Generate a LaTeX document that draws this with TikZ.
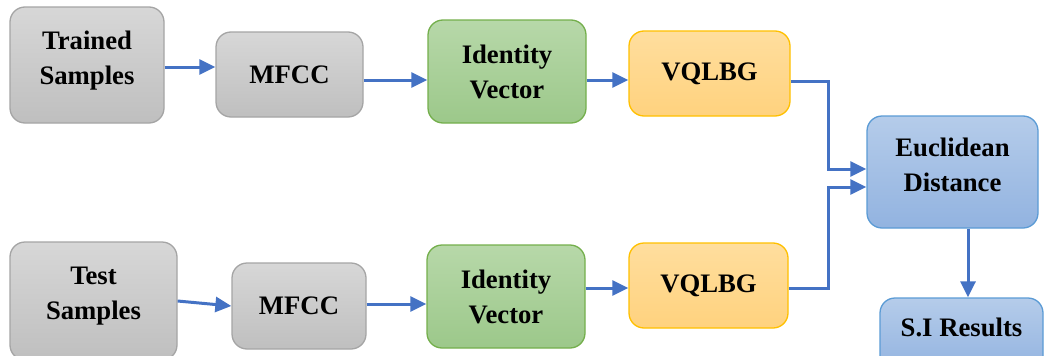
\documentclass[tikz,border=0pt]{standalone}
\usepackage{fontspec}
\setmainfont{Liberation Serif}
\usetikzlibrary{arrows.meta}
\definecolor{arrowblue}{HTML}{4472C4}
\definecolor{grayTop}{HTML}{D7D7D7}
\definecolor{grayBot}{HTML}{BFBFBF}
\definecolor{grayLine}{HTML}{A5A5A5}
\definecolor{greenTop}{HTML}{B7D8A9}
\definecolor{greenBot}{HTML}{9CC88A}
\definecolor{greenLine}{HTML}{74AF4C}
\definecolor{orangeTop}{HTML}{FFDE9E}
\definecolor{orangeBot}{HTML}{FFD27E}
\definecolor{orangeLine}{HTML}{FFC000}
\definecolor{blueTop}{HTML}{B5CCEA}
\definecolor{blueBot}{HTML}{92B3E0}
\definecolor{blueLine}{HTML}{5B9BD5}
\tikzset{
  box/.style={rounded corners=15pt, line width=1.3pt, inner sep=0pt,
    font=\fontsize{26.7}{35}\selectfont\bfseries, align=center},
  graybox/.style={box, draw=grayLine, top color=grayTop, bottom color=grayBot},
  greenbox/.style={box, draw=greenLine, top color=greenTop, bottom color=greenBot},
  orangebox/.style={box, draw=orangeLine, top color=orangeTop, bottom color=orangeBot},
  bluebox/.style={box, draw=blueLine, top color=blueTop, bottom color=blueBot},
  lbl/.style={font=\fontsize{26.7}{35}\selectfont\bfseries, align=center, inner sep=0pt},
  arr/.style={draw=arrowblue, line width=3pt,
    -{Triangle[length=16pt,width=15pt]}}
}
\begin{document}
\begin{tikzpicture}[x=1pt,y=-1pt]
\useasboundingbox (0,0) rectangle (1044,356);
\clip (0,0) rectangle (1044,356);

% upper chain: trained samples
\node[graybox, minimum width=154, minimum height=116] (ts) at (87,65) {};
\node[lbl] (tsT) at (87,61) {Trained\\Samples};
\node[graybox, minimum width=147, minimum height=85] (mfccA) at (289.5,74.5) {MFCC};
\node[greenbox, minimum width=158, minimum height=103] (idA) at (507,71.5) {Identity\\Vector};
\node[orangebox, minimum width=161, minimum height=85] (vqA) at (709.5,73.5) {VQLBG};

% lower chain: test samples
\node[graybox, minimum width=167, minimum height=118] (tb) at (93.5,301) {};
\node[lbl] (tbT) at (93.5,296) {Test\\Samples};
\node[graybox, minimum width=134, minimum height=86] (mfccB) at (299,306) {MFCC};
\node[greenbox, minimum width=158, minimum height=103] (idB) at (506,296.5) {Identity\\Vector};
\node[orangebox, minimum width=159, minimum height=85] (vqB) at (708.5,285.5) {VQLBG};

% matching and result
\node[bluebox, minimum width=171, minimum height=112] (ed) at (952.5,172) {};
\node[lbl] (edT) at (952.5,165) {Euclidean\\Distance};
\node[bluebox, minimum width=163, minimum height=74] (sir) at (961.5,335) {};
\node[lbl] (sirT) at (961.5,327) {S.I Results};

\coordinate (join) at (828,0);

% connectors
\draw[arr] ([yshift=-2pt]ts.east) -- ([yshift=-2pt]ts.east -| mfccA.west);
\draw[arr] ([yshift=-5.5pt]mfccA.east) -- ([yshift=-5.5pt]mfccA.east -| idA.west);
\draw[arr] ([yshift=-8.5pt]idA.east) -- ([yshift=-8.5pt]idA.east -| vqA.west);
\draw[arr] ([yshift=-7.5pt]vqA.east) -- ([yshift=-7.5pt]vqA.east -| join) |- ([yshift=3pt]ed.west);

\draw[arr] (tb.east) -- (mfccB.west);
\draw[arr] ([yshift=2pt]mfccB.east) -- ([yshift=2pt]mfccB.east -| idB.west);
\draw[arr] ([yshift=-2.5pt]idB.east |- vqB.west) -- ([yshift=-2.5pt]vqB.west);
\draw[arr] ([yshift=-2.5pt]vqB.east) -- ([yshift=-2.5pt]vqB.east -| join) |- ([yshift=-15pt]ed.west);

\draw[arr] ([xshift=15.5pt]ed.south) -- ([xshift=15.5pt]ed.south |- sir.north);
\end{tikzpicture}
\end{document}
